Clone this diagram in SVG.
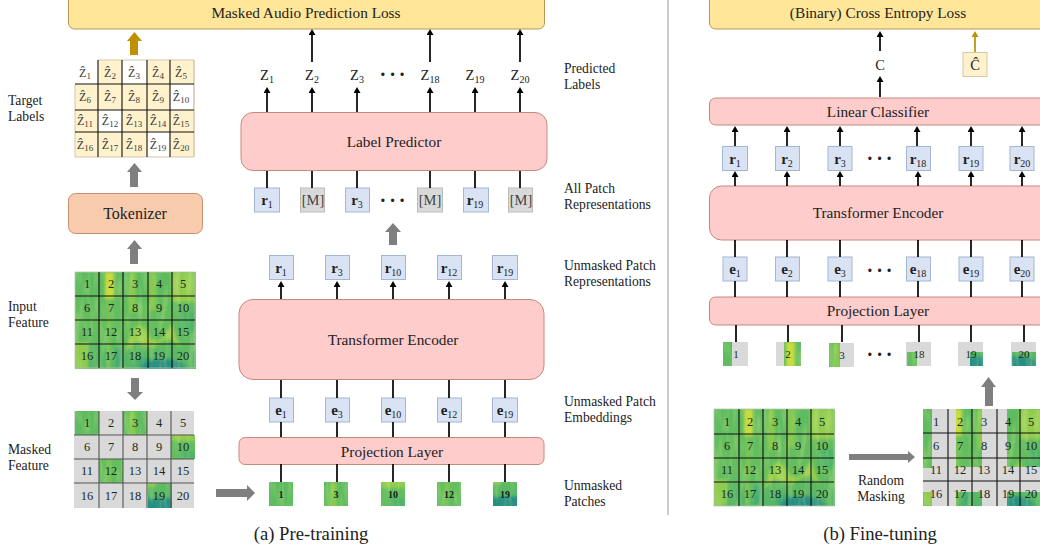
<svg xmlns="http://www.w3.org/2000/svg" width="1040" height="552" viewBox="0 0 1040 552">
<style>
text{font-family:"Liberation Serif","Times New Roman",serif;fill:#222}
.t{font-size:13.600px}
.h{font-size:15.300px;text-anchor:middle}
.cap{font-size:18.700px;text-anchor:middle}
.n{font-size:12.500px;text-anchor:middle;fill:#1c2a1c}
.pn{font-size:10px;text-anchor:middle;font-weight:bold;fill:#122}
.pg{font-size:11px;text-anchor:middle;fill:#1c2a1c}
.z{font-size:14.500px;text-anchor:middle}
.zh{font-size:12px;text-anchor:middle;fill:#3a3a3a}
.s{font-size:10px}
.zh .s{font-size:9px}
.b{font-size:15px;text-anchor:middle}
.b .r{font-weight:bold}
.m{font-size:14.500px;text-anchor:middle;fill:#444}
.dots{font-size:20px;text-anchor:middle;font-weight:bold;letter-spacing:3px}
.pink{fill:#ffcccc;stroke:#c58a7c;stroke-width:1}
.gold{fill:#ffe699;stroke:#b5975a;stroke-width:1}
.tok{fill:#f8cbad;stroke:#c58f70;stroke-width:1}
.blue{fill:#dae3f3;stroke:#a3b6d4;stroke-width:1}
.gray{fill:#d9d9d9;stroke:#bdbdbd;stroke-width:1}
.cream{fill:#fff2cc;stroke:#d6c9a5;stroke-width:1}
.grid{stroke:#111;stroke-width:1.100;fill:none}
.ln{stroke:#000;stroke-width:1.700;fill:none}
.ar{stroke:#000;stroke-width:1.700;fill:none;marker-end:url(#ah)}
.arg{stroke:#b8900c;stroke-width:1.700;fill:none;marker-end:url(#ahg)}
.bg{fill:#7f7f7f}
.bgold{fill:#bf9000}
</style>
<defs>
<marker id="ah" markerUnits="userSpaceOnUse" markerWidth="7" markerHeight="8" refX="0" refY="3.500" orient="auto"><path d="M0 0L6 3.500L0 7z" fill="#000"/></marker>
<marker id="ahg" markerUnits="userSpaceOnUse" markerWidth="7" markerHeight="8" refX="0" refY="3.500" orient="auto"><path d="M0 0L6 3.500L0 7z" fill="#bf9000"/></marker>
<filter id="soft" x="-5%" y="-5%" width="110%" height="110%"><feGaussianBlur stdDeviation="1.800"/></filter>
<filter id="tex" x="0" y="0" width="100%" height="100%"><feTurbulence type="fractalNoise" baseFrequency="0.16 0.035" numOctaves="2" seed="7"/><feColorMatrix values="0 0 0 0 0.66  0 0 0 0 0.83  0 0 0 0 0.28  2.2 0 0 0 -1"/></filter>
<clipPath id="cs"><rect width="121" height="97"/></clipPath>
<linearGradient id="sg" x1="0" y1="0" x2="0" y2="1"><stop offset="0" stop-color="#5cba60"/><stop offset=".6" stop-color="#66bf5e"/><stop offset="1" stop-color="#52b568"/></linearGradient>
<g id="spec" clip-path="url(#cs)">
<rect width="121" height="97" fill="url(#sg)"/>
<g filter="url(#soft)">
<rect x="30" y="0" width="9" height="27" fill="#c9dc3e"/>
<rect x="32" y="26" width="4" height="70" fill="#84c752" opacity=".7"/>
<rect x="54" y="0" width="7" height="40" fill="#8fcc4e" opacity=".85"/>
<rect x="74" y="0" width="7" height="38" fill="#8fcc4e" opacity=".85"/>
<rect x="96" y="0" width="24" height="30" fill="#98cf4c" opacity=".9"/>
<rect x="0" y="70" width="13" height="27" fill="#96cd4c" opacity=".9"/>
<path d="M50 80Q60 40 72 60T96 52L106 76L94 66L76 76L62 70Z" fill="#a3d248" opacity=".85"/>
<rect x="40" y="76" width="8" height="20" fill="#3fa978" opacity=".8"/>
<rect x="62" y="86" width="14" height="10" fill="#3fa978" opacity=".8"/>
<ellipse cx="88" cy="96" rx="22" ry="9" fill="#268f84"/>
<rect x="104" y="40" width="17" height="20" fill="#4db36a" opacity=".8"/>
</g>
<rect width="121" height="97" filter="url(#tex)" opacity=".4"/>
</g>
<clipPath id="cm"><rect x="0" y="0" width="24" height="24"/><rect x="48" y="0" width="24" height="24"/><rect x="96" y="24" width="24" height="24"/><rect x="24" y="48" width="24" height="24"/><rect x="73" y="72" width="24" height="25"/></clipPath>
<clipPath id="cr"><rect x="0" y="0" width="9" height="59"/><rect x="33" y="0" width="26" height="58"/><rect x="84" y="0" width="37" height="58"/><rect x="0" y="83" width="9" height="14"/><rect x="33" y="83" width="26" height="14"/><rect x="84" y="83" width="33" height="14"/></clipPath>
</defs>

<g id="divider"><path d="M668 0V515" stroke="#a9a9a9" stroke-width="1.200"/></g>

<g id="loss-a"><rect class="gold" x="68.500" y="-6" width="476" height="35" rx="6"/><text class="h" x="306" y="18">Masked Audio Prediction Loss</text></g>
<g id="label-predictor"><rect class="pink" x="241" y="112.500" width="306" height="58" rx="12"/><text class="h" x="394" y="147">Label Predictor</text></g>
<g id="tokenizer"><rect class="tok" x="68.500" y="193.500" width="134" height="40" rx="7"/><text x="135" y="219" font-size="16" text-anchor="middle">Tokenizer</text></g>
<g id="transformer-a"><rect class="pink" x="239" y="299.500" width="305" height="80" rx="14"/><text class="h" x="393" y="345">Transformer Encoder</text></g>
<g id="projection-a"><rect class="pink" x="239" y="437.500" width="305" height="27" rx="6"/><text class="h" x="392" y="457">Projection Layer</text></g>

<g id="target-labels">
<rect x="75" y="60" width="119" height="97" fill="#fff2cc"/>
<rect x="75" y="60" width="23" height="24" fill="#fff"/><rect x="122" y="60" width="25" height="24" fill="#fff"/><rect x="170" y="84" width="24" height="26" fill="#fff"/><rect x="98" y="110" width="24" height="22" fill="#fff"/><rect x="147" y="132" width="23" height="25" fill="#fff"/>
<path d="M98 60H194V157H75V84M194 60V157" fill="none" stroke="#cfc6ae" stroke-width="1"/>
<path class="grid" d="M98 60V157M122 60V157M147 60V157M170 60V157M75 84H194M75 110H194M75 132H194"/>
<text class="zh" x="85" y="77">Ẑ<tspan class="s" dy="2">1</tspan></text><text class="zh" x="110" y="77">Ẑ<tspan class="s" dy="2">2</tspan></text><text class="zh" x="134" y="77">Ẑ<tspan class="s" dy="2">3</tspan></text><text class="zh" x="158" y="77">Ẑ<tspan class="s" dy="2">4</tspan></text><text class="zh" x="181" y="77">Ẑ<tspan class="s" dy="2">5</tspan></text>
<text class="zh" x="85" y="101">Ẑ<tspan class="s" dy="2">6</tspan></text><text class="zh" x="110" y="101">Ẑ<tspan class="s" dy="2">7</tspan></text><text class="zh" x="134" y="101">Ẑ<tspan class="s" dy="2">8</tspan></text><text class="zh" x="158" y="101">Ẑ<tspan class="s" dy="2">9</tspan></text><text class="zh" x="181" y="101">Ẑ<tspan class="s" dy="2">10</tspan></text>
<text class="zh" x="85" y="125">Ẑ<tspan class="s" dy="2">11</tspan></text><text class="zh" x="110" y="125">Ẑ<tspan class="s" dy="2">12</tspan></text><text class="zh" x="134" y="125">Ẑ<tspan class="s" dy="2">13</tspan></text><text class="zh" x="158" y="125">Ẑ<tspan class="s" dy="2">14</tspan></text><text class="zh" x="181" y="125">Ẑ<tspan class="s" dy="2">15</tspan></text>
<text class="zh" x="85" y="149">Ẑ<tspan class="s" dy="2">16</tspan></text><text class="zh" x="110" y="149">Ẑ<tspan class="s" dy="2">17</tspan></text><text class="zh" x="134" y="149">Ẑ<tspan class="s" dy="2">18</tspan></text><text class="zh" x="158" y="149">Ẑ<tspan class="s" dy="2">19</tspan></text><text class="zh" x="181" y="149">Ẑ<tspan class="s" dy="2">20</tspan></text>
</g>

<g id="input-feature">
<use href="#spec" x="75" y="272"/>
<rect x="75" y="272" width="120" height="96" fill="none" stroke="#b9c9a9" stroke-width=".8"/>
<path class="grid" d="M99 272V368M123 272V368M148 272V368M172 272V368M75 296H195M75 320H195M75 344H195"/>
<text class="n" x="87" y="288">1</text><text class="n" x="111" y="288">2</text><text class="n" x="135" y="288">3</text><text class="n" x="159" y="288">4</text><text class="n" x="183" y="288">5</text>
<text class="n" x="87" y="312">6</text><text class="n" x="111" y="312">7</text><text class="n" x="135" y="312">8</text><text class="n" x="159" y="312">9</text><text class="n" x="183" y="312">10</text>
<text class="n" x="87" y="336">11</text><text class="n" x="111" y="336">12</text><text class="n" x="135" y="336">13</text><text class="n" x="159" y="336">14</text><text class="n" x="183" y="336">15</text>
<text class="n" x="87" y="360">16</text><text class="n" x="111" y="360">17</text><text class="n" x="135" y="360">18</text><text class="n" x="159" y="360">19</text><text class="n" x="183" y="360">20</text>
</g>

<g id="masked-feature">
<rect x="74" y="411" width="120" height="97" fill="#d9d9d9"/>
<g transform="translate(75 411)" clip-path="url(#cm)"><use href="#spec"/></g>
<path class="grid" d="M99 411V508M123 411V508M147 411V508M171 411V508M74 435H194M74 459H194M74 483H194" style="stroke:#555"/>
<text class="n" x="87" y="427">1</text><text class="n" x="111" y="427">2</text><text class="n" x="135" y="427">3</text><text class="n" x="159" y="427">4</text><text class="n" x="183" y="427">5</text>
<text class="n" x="87" y="451">6</text><text class="n" x="111" y="451">7</text><text class="n" x="135" y="451">8</text><text class="n" x="159" y="451">9</text><text class="n" x="183" y="451">10</text>
<text class="n" x="87" y="475">11</text><text class="n" x="111" y="475">12</text><text class="n" x="135" y="475">13</text><text class="n" x="159" y="475">14</text><text class="n" x="183" y="475">15</text>
<text class="n" x="87" y="500">16</text><text class="n" x="111" y="500">17</text><text class="n" x="135" y="500">18</text><text class="n" x="159" y="500">19</text><text class="n" x="183" y="500">20</text>
</g>

<g id="side-labels-a">
<text class="t" x="8" y="105">Target</text><text class="t" x="8" y="121">Labels</text>
<text class="t" x="8" y="311">Input</text><text class="t" x="8" y="327">Feature</text>
<text class="t" x="8" y="454">Masked</text><text class="t" x="8" y="470">Feature</text>
<text class="t" x="564" y="73">Predicted</text><text class="t" x="564" y="89">Labels</text>
<text class="t" x="564" y="193">All Patch</text><text class="t" x="564" y="209">Representations</text>
<text class="t" x="564" y="270">Unmasked Patch</text><text class="t" x="564" y="286">Representations</text>
<text class="t" x="564" y="406">Unmasked Patch</text><text class="t" x="564" y="422">Embeddings</text>
<text class="t" x="564" y="490">Unmasked</text><text class="t" x="564" y="506">Patches</text>
</g>

<g id="z-labels">
<text class="z" x="267" y="80">Z<tspan class="s" dy="3">1</tspan></text><text class="z" x="312" y="80">Z<tspan class="s" dy="3">2</tspan></text><text class="z" x="357" y="80">Z<tspan class="s" dy="3">3</tspan></text><text class="dots" x="394" y="81">···</text><text class="z" x="430" y="80">Z<tspan class="s" dy="3">18</tspan></text><text class="z" x="475" y="80">Z<tspan class="s" dy="3">19</tspan></text><text class="z" x="520" y="80">Z<tspan class="s" dy="3">20</tspan></text>
</g>

<g id="all-patch-reps">
<rect class="blue" x="254.500" y="188" width="25" height="24"/><text class="b" x="267" y="205"><tspan class="r">r</tspan><tspan class="s" dy="3">1</tspan></text>
<rect class="gray" x="300.500" y="188" width="24" height="24"/><text class="m" x="313" y="205">[M]</text>
<rect class="blue" x="345.500" y="188" width="24" height="24"/><text class="b" x="357" y="205"><tspan class="r">r</tspan><tspan class="s" dy="3">3</tspan></text>
<text class="dots" x="394" y="207">···</text>
<rect class="gray" x="417.500" y="188" width="25" height="24"/><text class="m" x="430" y="205">[M]</text>
<rect class="blue" x="463.500" y="188" width="25" height="24"/><text class="b" x="475" y="205"><tspan class="r">r</tspan><tspan class="s" dy="3">19</tspan></text>
<rect class="gray" x="508.500" y="188" width="24" height="24"/><text class="m" x="521" y="205">[M]</text>
</g>

<g id="unmasked-reps">
<rect class="blue" x="269.500" y="255.500" width="24" height="24"/><text class="b" x="281" y="273"><tspan class="r">r</tspan><tspan class="s" dy="3">1</tspan></text>
<rect class="blue" x="325.500" y="255.500" width="24" height="24"/><text class="b" x="337" y="273"><tspan class="r">r</tspan><tspan class="s" dy="3">3</tspan></text>
<rect class="blue" x="381.500" y="255.500" width="24" height="24"/><text class="b" x="393" y="273"><tspan class="r">r</tspan><tspan class="s" dy="3">10</tspan></text>
<rect class="blue" x="437.500" y="255.500" width="24" height="24"/><text class="b" x="449" y="273"><tspan class="r">r</tspan><tspan class="s" dy="3">12</tspan></text>
<rect class="blue" x="492.500" y="255.500" width="25" height="24"/><text class="b" x="505" y="273"><tspan class="r">r</tspan><tspan class="s" dy="3">19</tspan></text>
</g>

<g id="unmasked-embeddings">
<rect class="blue" x="269.500" y="398" width="24" height="24"/><text class="b" x="281" y="415"><tspan class="r">e</tspan><tspan class="s" dy="3">1</tspan></text>
<rect class="blue" x="325.500" y="398" width="24" height="24"/><text class="b" x="337" y="415"><tspan class="r">e</tspan><tspan class="s" dy="3">3</tspan></text>
<rect class="blue" x="381.500" y="398" width="24" height="24"/><text class="b" x="393" y="415"><tspan class="r">e</tspan><tspan class="s" dy="3">10</tspan></text>
<rect class="blue" x="437.500" y="398" width="24" height="24"/><text class="b" x="449" y="415"><tspan class="r">e</tspan><tspan class="s" dy="3">12</tspan></text>
<rect class="blue" x="492.500" y="398" width="25" height="24"/><text class="b" x="505" y="415"><tspan class="r">e</tspan><tspan class="s" dy="3">19</tspan></text>
</g>

<g id="unmasked-patches">
<svg x="269" y="482" width="24" height="24" viewBox="0 0 24 24"><use href="#spec"/></svg><text class="pn" x="281" y="498">1</text>
<svg x="324" y="482" width="24" height="24" viewBox="48 0 24 24"><use href="#spec"/></svg><text class="pn" x="336" y="498">3</text>
<svg x="381" y="482" width="24" height="24" viewBox="96 24 24 24"><use href="#spec"/></svg><text class="pn" x="393" y="498">10</text>
<svg x="437" y="482" width="24" height="24" viewBox="24 48 24 24"><use href="#spec"/></svg><text class="pn" x="449" y="498">12</text>
<svg x="493" y="482" width="24" height="24" viewBox="73 73 24 24"><use href="#spec"/></svg><text class="pn" x="505" y="498">19</text>
</g>

<g id="loss-b"><rect class="gold" x="709.500" y="-6" width="345" height="35" rx="6"/><text class="h" x="878" y="18">(Binary) Cross Entropy Loss</text></g>
<g id="linear-classifier"><rect class="pink" x="709.500" y="98" width="345" height="27" rx="6"/><text class="h" x="878" y="117">Linear Classifier</text></g>
<g id="transformer-b"><rect class="pink" x="709.500" y="186" width="345" height="54" rx="12"/><text class="h" x="878" y="218">Transformer Encoder</text></g>
<g id="projection-b"><rect class="pink" x="709.500" y="297" width="345" height="28" rx="6"/><text class="h" x="878" y="316">Projection Layer</text></g>

<g id="c-labels">
<text class="z" x="880" y="70">C</text>
<rect class="cream" x="963" y="52.500" width="24" height="24"/><text class="z" x="975" y="70">Ĉ</text>
</g>

<g id="reps-b">
<rect class="blue" x="722.500" y="146.500" width="25" height="24"/><text class="b" x="735" y="164"><tspan class="r">r</tspan><tspan class="s" dy="3">1</tspan></text>
<rect class="blue" x="775.500" y="146.500" width="24" height="24"/><text class="b" x="787" y="164"><tspan class="r">r</tspan><tspan class="s" dy="3">2</tspan></text>
<rect class="blue" x="828" y="146.500" width="24" height="24"/><text class="b" x="840" y="164"><tspan class="r">r</tspan><tspan class="s" dy="3">3</tspan></text>
<text class="dots" x="881" y="165">···</text>
<rect class="blue" x="906.500" y="146.500" width="24" height="24"/><text class="b" x="918" y="164"><tspan class="r">r</tspan><tspan class="s" dy="3">18</tspan></text>
<rect class="blue" x="959" y="146.500" width="24" height="24"/><text class="b" x="971" y="164"><tspan class="r">r</tspan><tspan class="s" dy="3">19</tspan></text>
<rect class="blue" x="1010" y="146.500" width="24" height="24"/><text class="b" x="1022" y="164"><tspan class="r">r</tspan><tspan class="s" dy="3">20</tspan></text>
</g>

<g id="embeds-b">
<rect class="blue" x="723" y="257" width="24" height="24"/><text class="b" x="735" y="274"><tspan class="r">e</tspan><tspan class="s" dy="3">1</tspan></text>
<rect class="blue" x="775.500" y="257" width="24" height="24"/><text class="b" x="787" y="274"><tspan class="r">e</tspan><tspan class="s" dy="3">2</tspan></text>
<rect class="blue" x="828" y="257" width="24" height="24"/><text class="b" x="840" y="274"><tspan class="r">e</tspan><tspan class="s" dy="3">3</tspan></text>
<text class="dots" x="881" y="277">···</text>
<rect class="blue" x="906.500" y="257" width="24" height="24"/><text class="b" x="918" y="274"><tspan class="r">e</tspan><tspan class="s" dy="3">18</tspan></text>
<rect class="blue" x="959" y="257" width="24" height="24"/><text class="b" x="971" y="274"><tspan class="r">e</tspan><tspan class="s" dy="3">19</tspan></text>
<rect class="blue" x="1010" y="257" width="24" height="24"/><text class="b" x="1022" y="274"><tspan class="r">e</tspan><tspan class="s" dy="3">20</tspan></text>
</g>

<g id="patches-b">
<rect x="723" y="342" width="25" height="24" fill="#d9d9d9"/><svg x="723" y="342" width="9" height="24" viewBox="0 0 9 24"><use href="#spec"/></svg><text class="pg" x="736" y="358">1</text>
<rect x="776" y="342" width="25" height="24" fill="#d9d9d9"/><svg x="784" y="342" width="17" height="24" viewBox="28 0 17 24"><use href="#spec"/></svg><text class="pg" x="788" y="358">2</text>
<rect x="829" y="343" width="25" height="24" fill="#d9d9d9"/><svg x="829" y="343" width="11" height="24" viewBox="50 0 11 24"><use href="#spec"/></svg><text class="pg" x="842" y="359">3</text>
<text class="dots" x="881" y="361">···</text>
<rect x="906" y="342" width="25" height="24" fill="#d9d9d9"/><svg x="907" y="352" width="10" height="14" viewBox="36 58 10 14"><use href="#spec"/></svg><text class="pg" x="919" y="358">18</text>
<rect x="958" y="342" width="25" height="24" fill="#d9d9d9"/><svg x="970" y="352" width="13" height="14" viewBox="78 83 13 14"><use href="#spec"/></svg><text class="pg" x="971" y="358">19</text>
<rect x="1011" y="342" width="25" height="24" fill="#d9d9d9"/><svg x="1012" y="352" width="24" height="14" viewBox="85 83 24 14"><use href="#spec"/></svg><text class="pg" x="1024" y="358">20</text>
</g>

<g id="input-b">
<use href="#spec" x="714" y="409"/>
<rect x="714" y="409" width="120" height="97" fill="none" stroke="#b9c9a9" stroke-width=".8"/>
<path class="grid" d="M739 409V506M763 409V506M787 409V506M811 409V506M714 434H834M714 458H834M714 482H834"/>
<text class="n" x="727" y="426">1</text><text class="n" x="750" y="426">2</text><text class="n" x="775" y="426">3</text><text class="n" x="798" y="426">4</text><text class="n" x="822" y="426">5</text>
<text class="n" x="727" y="450">6</text><text class="n" x="750" y="450">7</text><text class="n" x="775" y="450">8</text><text class="n" x="798" y="450">9</text><text class="n" x="822" y="450">10</text>
<text class="n" x="727" y="474">11</text><text class="n" x="750" y="474">12</text><text class="n" x="775" y="474">13</text><text class="n" x="798" y="474">14</text><text class="n" x="822" y="474">15</text>
<text class="n" x="727" y="498">16</text><text class="n" x="750" y="498">17</text><text class="n" x="775" y="498">18</text><text class="n" x="798" y="498">19</text><text class="n" x="822" y="498">20</text>
</g>

<g id="masked-b">
<rect x="923" y="409" width="121" height="97" fill="#d9d9d9"/>
<g transform="translate(923 409)" clip-path="url(#cr)"><use href="#spec"/></g>
<path class="grid" d="M948 409V506M972 409V506M997 409V506M1020 409V506M923 433H1044M923 458H1044M923 481H1044"/>
<text class="n" x="936" y="426">1</text><text class="n" x="960" y="426">2</text><text class="n" x="984" y="426">3</text><text class="n" x="1008" y="426">4</text><text class="n" x="1031" y="426">5</text>
<text class="n" x="936" y="450">6</text><text class="n" x="960" y="450">7</text><text class="n" x="984" y="450">8</text><text class="n" x="1008" y="450">9</text><text class="n" x="1031" y="450">10</text>
<text class="n" x="936" y="474">11</text><text class="n" x="960" y="474">12</text><text class="n" x="984" y="474">13</text><text class="n" x="1008" y="474">14</text><text class="n" x="1031" y="474">15</text>
<text class="n" x="936" y="498">16</text><text class="n" x="960" y="498">17</text><text class="n" x="984" y="498">18</text><text class="n" x="1008" y="498">19</text><text class="n" x="1031" y="498">20</text>
</g>

<g id="other-text">
<text class="t" x="881" y="485" text-anchor="middle">Random</text><text class="t" x="881" y="501" text-anchor="middle">Masking</text>
<text class="cap" x="311" y="540">(a) Pre-training</text><text class="cap" x="880" y="540">(b) Fine-tuning</text>
</g>

<g id="connectors">
<path class="bgold" d="M130 55V41H127L134.500 32L142 41H138V55Z"/>
<path class="bg" d="M130 187V172H127L134.500 163L142 172H138V187Z"/>
<path class="bg" d="M130 264V249H127L134.500 240L142 249H138V264Z"/>
<path class="bg" d="M131 378V392H127L135 400L143 392H139V378Z"/>
<path class="bg" d="M216 489H247V485L255 493L247 501V497H216Z"/>
<path class="bg" d="M389 245V232H385L393 223L401 232H397V245Z"/>
<path class="bg" d="M985 406V387H981L988.500 377L996 387H993V406Z"/>
<path class="bg" d="M849 454H908V451L915 457L908 463V460H849Z"/>
<path class="ar" d="M312 62V35"/><path class="ar" d="M430 62V35"/><path class="ar" d="M520 62V35"/>
<path class="ar" d="M267 112V93"/><path class="ar" d="M312 112V93"/><path class="ar" d="M357 112V93"/><path class="ar" d="M430 112V93"/><path class="ar" d="M475 112V93"/><path class="ar" d="M520 112V93"/>
<path class="ln" d="M267 171V188M312 171V188M357 171V188M430 171V188M475 171V188M520 171V188"/>
<path class="ar" d="M281 299V287"/><path class="ar" d="M337 299V287"/><path class="ar" d="M393 299V287"/><path class="ar" d="M449 299V287"/><path class="ar" d="M505 299V287"/>
<path class="ln" d="M281 380V398M337 380V398M393 380V398M449 380V398M505 380V398M281 422V437M337 422V437M393 422V437M449 422V437M505 422V437M281 464V482M337 464V482M393 464V482M449 464V482M505 464V482"/>
<path class="ar" d="M880 51V37"/><path class="ar" d="M880 97V82"/><path class="arg" d="M975 52V37"/>
<path class="ar" d="M735 146V132"/><path class="ar" d="M787 146V132"/><path class="ar" d="M840 146V132"/><path class="ar" d="M917 146V132"/><path class="ar" d="M971 146V132"/><path class="ar" d="M1022 146V132"/>
<path class="ar" d="M735 186V177"/><path class="ar" d="M787 186V177"/><path class="ar" d="M840 186V177"/><path class="ar" d="M918 186V177"/><path class="ar" d="M971 186V177"/><path class="ar" d="M1022 186V177"/>
<path class="ln" d="M735 240V257M787 240V257M840 240V257M918 240V257M971 240V257M1022 240V257M735 281V297M787 281V297M840 281V297M918 281V297M971 281V297M1022 281V297M736 325V342M788 325V342M842 325V342M919 325V342M971 325V342M1024 325V342"/>
</g>
</svg>
